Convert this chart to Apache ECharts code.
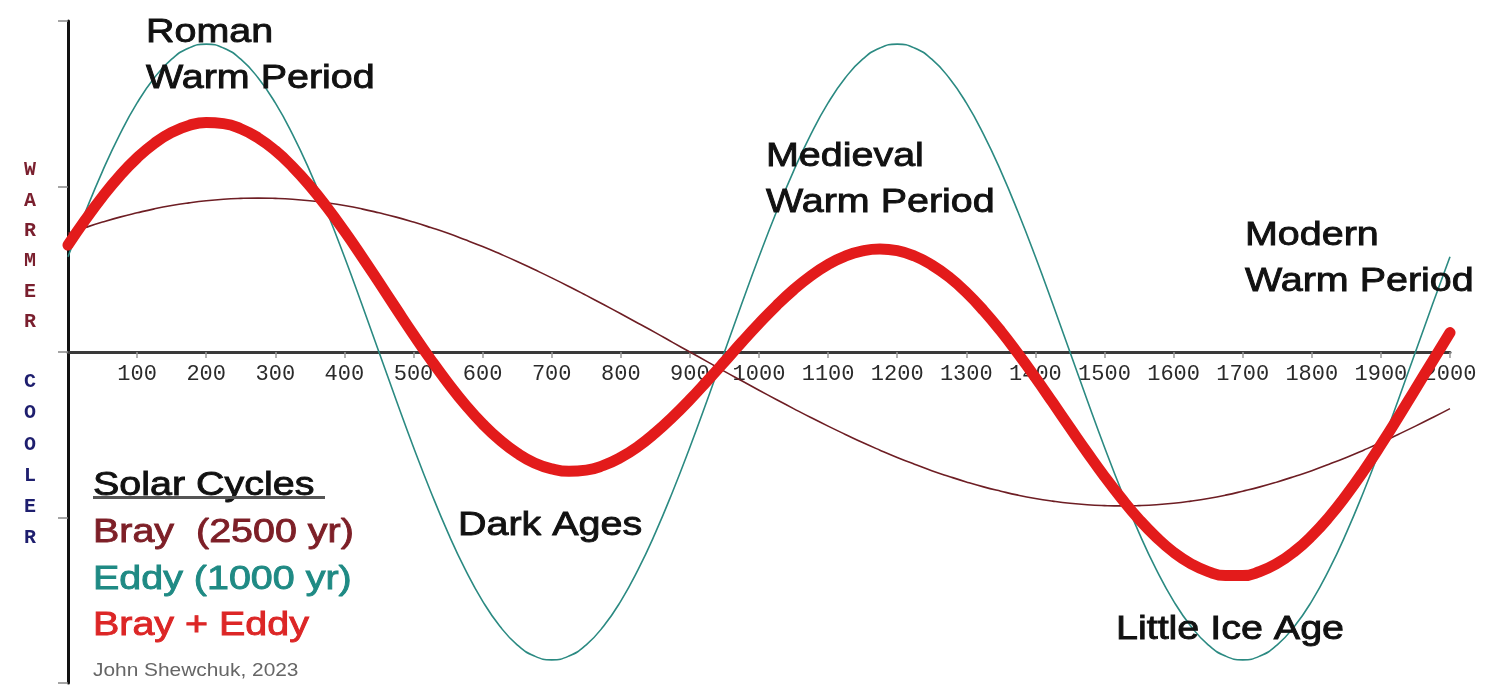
<!DOCTYPE html>
<html>
<head>
<meta charset="utf-8">
<script src="https://cdn.jsdelivr.net/npm/echarts@6/dist/echarts.min.js"></script>
<style>
html,body{margin:0;padding:0;background:#fff;}
#chart{width:1500px;height:700px;}
</style>
</head>
<body>
<div id="chart"></div>
<script>
// Years (x axis), every 25 years
const years = [0,25,50,75,100,125,150,175,200,225,250,275,300,325,350,375,400,425,450,475,
  500,525,550,575,600,625,650,675,700,725,750,775,800,825,850,875,900,925,950,975,
  1000,1025,1050,1075,1100,1125,1150,1175,1200,1225,1250,1275,1300,1325,1350,1375,1400,1425,1450,1475,
  1500,1525,1550,1575,1600,1625,1650,1675,1700,1725,1750,1775,1800,1825,1850,1875,1900,1925,1950,1975,2000];

// Bray cycle (2500 yr) – relative warmth
const bray = [0.717,0.752,0.785,0.815,0.841,0.865,0.885,0.901,0.914,0.923,0.928,0.930,0.928,0.923,0.914,0.901,0.885,0.865,0.841,0.815,
  0.785,0.752,0.717,0.678,0.637,0.593,0.547,0.498,0.448,0.396,0.342,0.287,0.231,0.174,0.117,0.058,0.0,-0.058,-0.117,-0.174,
  -0.231,-0.287,-0.342,-0.396,-0.448,-0.498,-0.547,-0.593,-0.637,-0.678,-0.717,-0.752,-0.785,-0.815,-0.841,-0.865,-0.885,-0.901,-0.914,-0.923,
  -0.928,-0.930,-0.928,-0.923,-0.914,-0.901,-0.885,-0.865,-0.841,-0.815,-0.785,-0.752,-0.717,-0.678,-0.637,-0.593,-0.547,-0.498,-0.448,-0.396,-0.342];

// Eddy cycle (1000 yr)
const eddy = [0.575,0.844,1.093,1.315,1.505,1.657,1.769,1.837,1.86,1.837,1.769,1.657,1.505,1.315,1.093,0.844,0.575,0.291,0.0,-0.291,
  -0.575,-0.844,-1.093,-1.315,-1.505,-1.657,-1.769,-1.837,-1.86,-1.837,-1.769,-1.657,-1.505,-1.315,-1.093,-0.844,-0.575,-0.291,0.0,0.291,
  0.575,0.844,1.093,1.315,1.505,1.657,1.769,1.837,1.86,1.837,1.769,1.657,1.505,1.315,1.093,0.844,0.575,0.291,0.0,-0.291,
  -0.575,-0.844,-1.093,-1.315,-1.505,-1.657,-1.769,-1.837,-1.86,-1.837,-1.769,-1.657,-1.505,-1.315,-1.093,-0.844,-0.575,-0.291,0.0,0.291,0.575];

// Bray + Eddy (combined)
const brayEddy = [0.646,0.798,0.939,1.065,1.173,1.261,1.327,1.369,1.387,1.380,1.349,1.294,1.217,1.119,1.004,0.873,0.730,0.578,0.421,0.262,
  0.105,-0.046,-0.188,-0.319,-0.434,-0.532,-0.611,-0.670,-0.706,-0.721,-0.714,-0.685,-0.637,-0.571,-0.488,-0.393,-0.288,-0.175,-0.059,0.059,
  0.172,0.279,0.376,0.460,0.529,0.580,0.611,0.622,0.612,0.580,0.526,0.453,0.360,0.250,0.126,-0.011,-0.155,-0.305,-0.457,-0.607,
  -0.752,-0.887,-1.011,-1.119,-1.210,-1.279,-1.327,-1.351,-1.351,-1.326,-1.277,-1.205,-1.111,-0.997,-0.865,-0.719,-0.561,-0.395,-0.224,-0.053,0.117];

// Text content
const periodLabels = [
  {lines:['Roman','Warm Period'], x:146, y:33},
  {lines:['Medieval','Warm Period'], x:766, y:157},
  {lines:['Modern','Warm Period'], x:1245, y:236},
  {lines:['Dark Ages'], x:458, y:526},
  {lines:['Little Ice Age'], x:1116, y:630}
];
const legendTitle = 'Solar Cycles';
const legendItems = [
  {text:'Bray  (2500 yr)', color:'#7d1f27'},
  {text:'Eddy (1000 yr)', color:'#1f8a84'},
  {text:'Bray + Eddy', color:'#dc2626'}
];
const credit = 'John Shewchuk, 2023';
const warmer = 'WARMER';
const cooler = 'COOLER';

const zip = (xs, ys) => xs.map((x, i) => [x, ys[i]]);

const SANS = '"Liberation Sans", Arial, Helvetica, sans-serif';
const MONO = '"Liberation Mono", "Courier New", monospace';
const SX = 1.16;
const graphic = [];
function addText(t, x, y, size, color, sx, strokeW) {
  graphic.push({type:'text', x:x, y:y, scaleX:sx, z:100,
    style:{text:t, font:size + 'px ' + SANS, fill:color, stroke:color, lineWidth:strokeW,
      textAlign:'left', textVerticalAlign:'middle'}});
}
periodLabels.forEach(p => {
  p.lines.forEach((t, i) => addText(t, p.x, p.y + i*46, 34, '#111', SX, 0.9));
});
addText(legendTitle, 93, 486, 34, '#111', SX, 0.9);
graphic.push({type:'rect', shape:{x:93, y:496, width:232, height:3}, style:{fill:'#555'}, z:100});
legendItems.forEach((it, i) => addText(it.text, 93, 533 + i*46.5, 34, it.color, SX, 0.9));
addText(credit, 93, 671, 18, '#666', SX, 0);
graphic.push({type:'text', x:30, y:155, z:100,
  style:{text:warmer.split('').join('\n'), font:'bold 20px ' + MONO, lineHeight:30.4,
    fill:'#7a1f2e', textAlign:'center', textVerticalAlign:'top'}});
graphic.push({type:'text', x:30, y:366.5, z:100,
  style:{text:cooler.split('').join('\n'), font:'bold 20px ' + MONO, lineHeight:31.2,
    fill:'#1e1e6e', textAlign:'center', textVerticalAlign:'top'}});

const chart = echarts.init(document.getElementById('chart'), null, {renderer:'canvas'});
chart.setOption({
  animation:false,
  backgroundColor:'#ffffff',
  grid:[
    {left:68, right:50, top:21, bottom:17, containLabel:false, outerBoundsMode:'none'},
    {left:68, right:50, top:21, height:331, containLabel:false, outerBoundsMode:'none'}
  ],
  xAxis:[
    {type:'value', gridIndex:0, min:0, max:2000, interval:100,
      axisLine:{show:false}, axisTick:{show:false}, axisLabel:{show:false}, splitLine:{show:false}},
    {type:'value', gridIndex:1, min:0, max:2000, interval:100, position:'bottom',
      axisLine:{show:true, onZero:false, lineStyle:{color:'#3a3a3a', width:3}},
      axisTick:{show:true, length:6, lineStyle:{color:'#999', width:1.5}},
      axisLabel:{show:true, showMinLabel:false, margin:11, color:'#2a2a2a', fontSize:22, fontFamily:MONO,
        formatter:v => String(v)},
      splitLine:{show:false}}
  ],
  yAxis:[
    {type:'value', gridIndex:0, min:-2, max:2, interval:1,
      axisLine:{show:true, onZero:false, lineStyle:{color:'#111', width:3}},
      axisTick:{show:true, length:10, lineStyle:{color:'#888', width:1.5}},
      axisLabel:{show:false}, splitLine:{show:false}},
    {type:'value', gridIndex:1, min:0, max:1, show:false}
  ],
  series:[
    {name:'Bray', type:'line', xAxisIndex:0, yAxisIndex:0, data:zip(years, bray), smooth:true, symbol:'none', z:2,
      lineStyle:{color:'#6e1e24', width:1.6}},
    {name:'Eddy', type:'line', xAxisIndex:0, yAxisIndex:0, data:zip(years, eddy), smooth:true, symbol:'none', z:3,
      lineStyle:{color:'#2b8a82', width:1.6}},
    {name:'Bray + Eddy', type:'line', xAxisIndex:0, yAxisIndex:0, data:zip(years, brayEddy), smooth:true, symbol:'none', z:4,
      lineStyle:{color:'#e31b1b', width:11, cap:'round', join:'round'}}
  ],
  graphic:graphic
});
</script>
</body>
</html>
